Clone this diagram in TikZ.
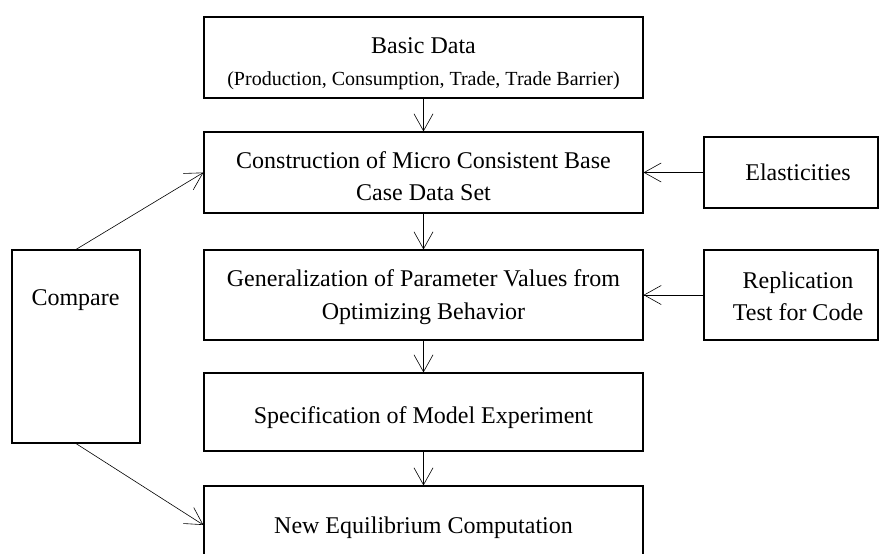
\documentclass[tikz,border=0pt]{standalone}
\usepackage{fontspec}
\setmainfont{Liberation Serif}
\usetikzlibrary{arrows.meta}
\begin{document}
\begin{tikzpicture}[x=1pt,y=-1pt,
  box/.style={draw, line width=1.1pt, rectangle, inner sep=0pt},
  txt/.style={inner sep=0pt, anchor=base, font=\fontsize{24}{32}\selectfont},
  small/.style={inner sep=0pt, anchor=base, font=\fontsize{20}{24}\selectfont},
  conn/.style={line width=0.6pt, -{Straight Barb[length=17pt,width=19pt,line width=0.6pt]}}]
\useasboundingbox (0,0) rectangle (879,554);
% main column boxes
\node[box, minimum width=439pt, minimum height=81pt] (basic) at (423.5,57.5) {};
\node[box, minimum width=439pt, minimum height=81pt] (cons) at (423.5,172.5) {};
\node[box, minimum width=439pt, minimum height=90pt] (gen) at (423.5,295) {};
\node[box, minimum width=439pt, minimum height=78pt] (spec) at (423.5,412) {};
\node[box, minimum width=439pt, minimum height=78pt] (neweq) at (423.5,525) {};
% right column boxes
\node[box, minimum width=174pt, minimum height=71pt] (elast) at (791,172.5) {};
\node[box, minimum width=174pt, minimum height=90pt] (repl) at (791,295) {};
% left box
\node[box, minimum width=128pt, minimum height=193pt] (cmp) at (76,346.5) {};
% texts
\node[txt] (basic1) at (423.5,53) {Basic Data};
\node[small] (basic2) at (423.5,85) {(Production, Consumption, Trade, Trade Barrier)};
\node[txt] (cons1) at (423.5,168) {Construction of Micro Consistent Base};
\node[txt] (cons2) at (423.5,200) {Case Data Set};
\node[txt] (gen1) at (423.5,286.5) {Generalization of Parameter Values from};
\node[txt] (gen2) at (423.5,319) {Optimizing Behavior};
\node[txt] (spec1) at (423.5,423) {Specification of Model Experiment};
\node[txt] (neweq1) at (423.5,533) {New Equilibrium Computation};
\node[txt] (elast1) at (798,180) {Elasticities};
\node[txt] (repl1) at (798,288) {Replication};
\node[txt] (repl2) at (798,320) {Test for Code};
\node[txt] (cmp1) at (75.5,305) {Compare};
% connectors
\draw[conn] (basic) -- (cons);
\draw[conn] (cons) -- (gen);
\draw[conn] (gen) -- (spec);
\draw[conn] (spec) -- (neweq);
\draw[conn] (elast) -- (cons);
\draw[conn] (repl) -- (gen);
\draw[conn] (cmp.north) -- (cons.west);
\draw[conn] (cmp.south) -- (neweq.west);
\end{tikzpicture}
\end{document}
